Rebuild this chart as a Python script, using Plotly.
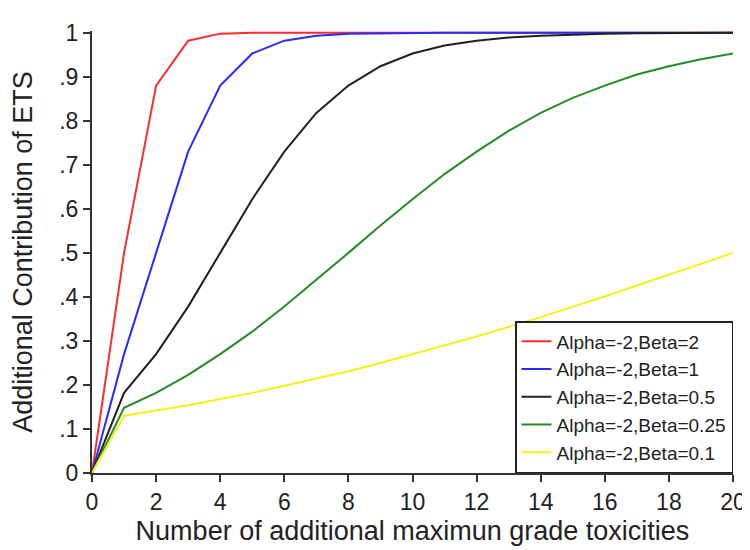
import plotly.graph_objects as go

# number of additional maximum grade toxicities
x_vals = list(range(0, 21))

# values
beta_2 = [0, 0.50, 0.88, 0.982, 0.998, 1.0, 1.0, 1.0, 1.0, 1.0, 1.0,
          1.0, 1.0, 1.0, 1.0, 1.0, 1.0, 1.0, 1.0, 1.0, 1.0]
beta_1 = [0, 0.27, 0.50, 0.73, 0.88, 0.953, 0.982, 0.993, 0.998, 0.999, 1.0,
          1.0, 1.0, 1.0, 1.0, 1.0, 1.0, 1.0, 1.0, 1.0, 1.0]
beta_05 = [0, 0.182, 0.27, 0.378, 0.50, 0.622, 0.73, 0.818, 0.88, 0.924, 0.953,
           0.971, 0.982, 0.989, 0.993, 0.996, 0.998, 0.999, 0.999, 1.0, 1.0]
beta_025 = [0, 0.148, 0.182, 0.223, 0.27, 0.321, 0.378, 0.438, 0.50, 0.562, 0.622,
            0.679, 0.73, 0.777, 0.818, 0.852, 0.88, 0.905, 0.924, 0.94, 0.953]
beta_01 = [0, 0.13, 0.142, 0.154, 0.168, 0.182, 0.198, 0.214, 0.231, 0.25, 0.27,
           0.289, 0.31, 0.332, 0.354, 0.378, 0.401, 0.426, 0.45, 0.475, 0.50]

series = [
    ("Alpha=-2,Beta=2", beta_2, "#ff2a2a"),
    ("Alpha=-2,Beta=1", beta_1, "#2a2aff"),
    ("Alpha=-2,Beta=0.5", beta_05, "#202020"),
    ("Alpha=-2,Beta=0.25", beta_025, "#238c23"),
    ("Alpha=-2,Beta=0.1", beta_01, "#f5f01a"),
]

y_ticks = [0, 0.1, 0.2, 0.3, 0.4, 0.5, 0.6, 0.7, 0.8, 0.9, 1]
y_ticktext = ["0", ".1", ".2", ".3", ".4", ".5", ".6", ".7", ".8", ".9", "1"]
x_ticks = list(range(0, 21, 2))

font_family = "Liberation Sans, Arial, sans-serif"

fig = go.Figure()
for name, ys, colour in series:
    fig.add_trace(go.Scatter(
        x=x_vals, y=ys, name=name, mode="lines",
        line={"color": colour, "width": 2},
    ))

fig.update_layout(
    width=750, height=550,
    paper_bgcolor="white", plot_bgcolor="white",
    margin=dict(l=84, r=17, t=17, b=85),
    font=dict(family=font_family, color="#222222", size=23),
    showlegend=True,
    legend=dict(
        x=1, xanchor="right", y=0, yanchor="bottom",
        bgcolor="white", bordercolor="#222222", borderwidth=1.5,
        font=dict(size=19), tracegroupgap=0,
    ),
    xaxis=dict(
        range=[0, 20], tickvals=x_ticks, ticks="outside", ticklen=7, tickwidth=2,
        tickcolor="#333333", showline=True, linecolor="#333333", linewidth=2,
        showgrid=False, zeroline=False,
        title=dict(text="Number of additional maximun grade toxicities",
                   font=dict(size=27), standoff=8),
    ),
    yaxis=dict(
        range=[0, 1.004], tickvals=y_ticks, ticktext=y_ticktext, ticks="outside",
        ticklen=7, tickwidth=2, tickcolor="#333333", showline=True,
        linecolor="#333333", linewidth=2, showgrid=False, zeroline=False,
        title=dict(text="Additional Contribution of ETS", font=dict(size=27), standoff=20),
    ),
)

fig.write_html("out.html")
